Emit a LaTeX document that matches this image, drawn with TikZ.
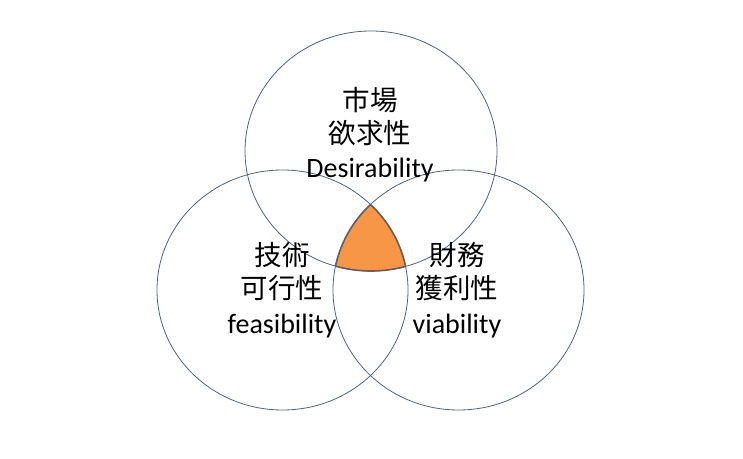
\documentclass[tikz,border=0pt]{standalone}
\usepackage{fontspec}
\setmainfont{Carlito}
\newfontfamily\cjk{Noto Sans CJK JP}
\definecolor{ringc}{HTML}{4A6384}
\definecolor{orangef}{HTML}{F79646}
\definecolor{orangeline}{HTML}{8A5A3A}
\begin{document}
\begin{tikzpicture}[x=1pt,y=1pt,
  ring/.style={draw=ringc, line width=0.8pt},
  jp/.style={inner sep=0pt, font=\fontsize{27.5}{32}\selectfont\cjk},
  en/.style={inner sep=0pt, font=\fontsize{28}{32}\selectfont}]
\useasboundingbox (0,0) rectangle (743,458);
\def\topE{(371,307) ellipse [x radius=126, y radius=120]}
\def\leftE{(282.5,168) ellipse [x radius=125.5, y radius=120]}
\def\rightE{(458.5,168) ellipse [x radius=125.5, y radius=120]}
% orange intersection
\begin{scope}
  \clip \topE; \clip \leftE;
  \fill[orangef] \rightE;
\end{scope}
\begin{scope}
  \clip \topE; \clip \leftE;
  \draw[orangeline, line width=1.6pt] \rightE;
\end{scope}
\begin{scope}
  \clip \topE; \clip \rightE;
  \draw[orangeline, line width=1.6pt] \leftE;
\end{scope}
\begin{scope}
  \clip \leftE; \clip \rightE;
  \draw[orangeline, line width=1.6pt] \topE;
\end{scope}
% circles
\draw[ring] \topE;
\draw[ring] \leftE;
\draw[ring] \rightE;
% labels
\node[jp] (t1) at (370,358) {市場};
\node[jp] (t2) at (370,325) {欲求性};
\node[en] (t3) at (370,288) {Desirability};
\node[jp] (l1) at (282,203) {技術};
\node[jp] (l2) at (282,170) {可行性};
\node[en] (l3) at (282,132) {feasibility};
\node[jp] (r1) at (457,203) {財務};
\node[jp] (r2) at (457,170) {獲利性};
\node[en] (r3) at (457,132) {viability};
\end{tikzpicture}
\end{document}
